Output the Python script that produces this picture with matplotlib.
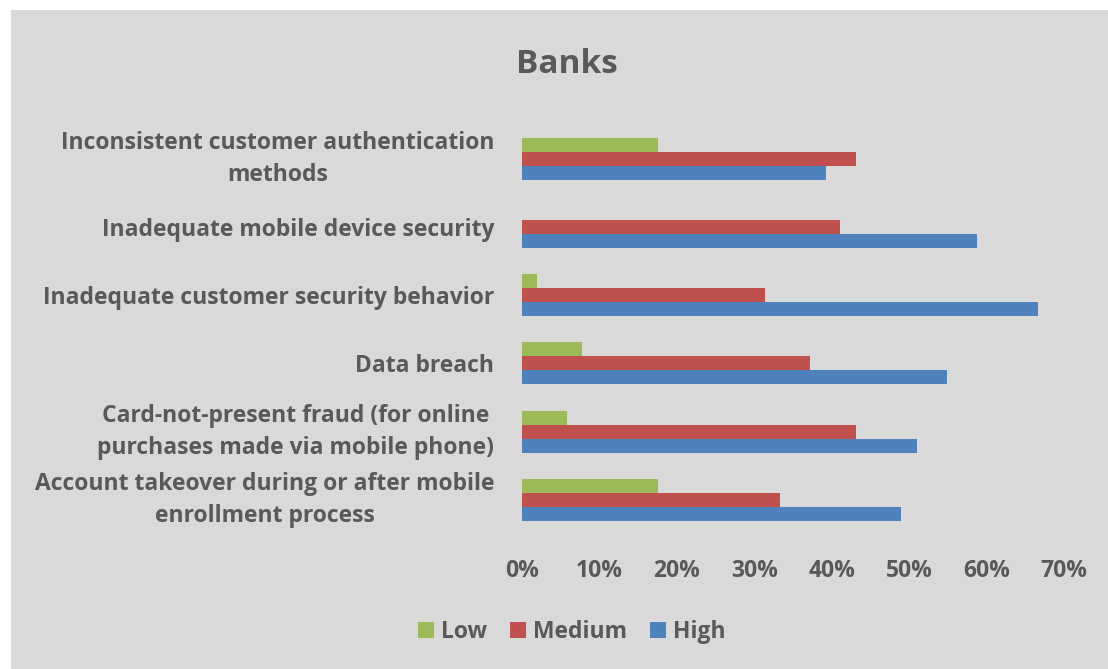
import matplotlib
matplotlib.use('Agg')
import matplotlib.pyplot as plt
import matplotlib.ticker as mticker
from matplotlib.patches import Rectangle
import numpy as np

plt.rcParams['font.family'] = ['Open Sans', 'DejaVu Sans']
plt.rcParams['font.weight'] = 'bold'

# risk categories, bottom to top
categories = [
    'Account takeover during or after mobile\nenrollment process',
    'Card-not-present fraud (for online\npurchases made via mobile phone)',
    'Data breach',
    'Inadequate customer security behavior',
    'Inadequate mobile device security',
    'Inconsistent customer authentication\nmethods',
]
low = [0.175, 0.058, 0.077, 0.019, 0.0, 0.175]
medium = [0.333, 0.431, 0.372, 0.314, 0.411, 0.431]
high = [0.490, 0.510, 0.549, 0.667, 0.588, 0.392]
series_names = ['Low', 'Medium', 'High']

text_col = '#595959'
bg_col = '#d9d9d9'
colors = ['#9bbb59', '#c0504d', '#4f81bd']

fig = plt.figure(figsize=(11.08, 6.69), dpi=100, facecolor='white')
# grey chart area, slightly inset from the left and top
fig.patches.append(Rectangle((11 / 1108, 0), 1, 1 - 10 / 669,
                             transform=fig.transFigure, facecolor=bg_col,
                             edgecolor='none', zorder=-10))

ax = fig.add_axes([522 / 1108, 1 - 534 / 669, 542 / 1108, 409.5 / 669])
ax.set_facecolor('none')

y = np.arange(len(categories))
h = 0.205
bars = []
for off, vals, c, name in zip([h, 0, -h], [low, medium, high], colors, series_names):
    b = ax.barh(y + off, vals, height=h, color=c, label=name, edgecolor='none')
    bars.append(b)

ax.set_xlim(0, 0.7)
ax.set_ylim(-0.5, len(categories) - 0.5)
ax.xaxis.set_major_locator(mticker.MultipleLocator(0.1))
ax.xaxis.set_major_formatter(mticker.PercentFormatter(1.0, decimals=0))
ax.set_yticks(y)
ax.set_yticklabels(categories, multialignment='center', linespacing=1.45)
# two-line labels centred on their group
for lbl in ax.get_yticklabels():
    if '\n' in lbl.get_text():
        lbl.set_verticalalignment('center')
ax.tick_params(axis='both', length=0, labelsize=16.5, labelcolor=text_col)
ax.tick_params(axis='y', pad=20)
ax.tick_params(axis='x', pad=18)
for s in ax.spines.values():
    s.set_visible(False)

fig.text(567 / 1108, 1 - 73 / 669, 'Banks', ha='center', va='baseline',
         fontsize=24, fontweight='bold', color=text_col)

leg = fig.legend(handles=bars, labels=series_names, loc='center',
                 bbox_to_anchor=(572 / 1108, 1 - 632 / 669), ncol=3,
                 frameon=False, fontsize=16.5, handlelength=0.7,
                 handleheight=0.7, handletextpad=0.3, columnspacing=1.0)
for t in leg.get_texts():
    t.set_color(text_col)

fig.savefig('out.png', dpi=100, facecolor=fig.get_facecolor())
